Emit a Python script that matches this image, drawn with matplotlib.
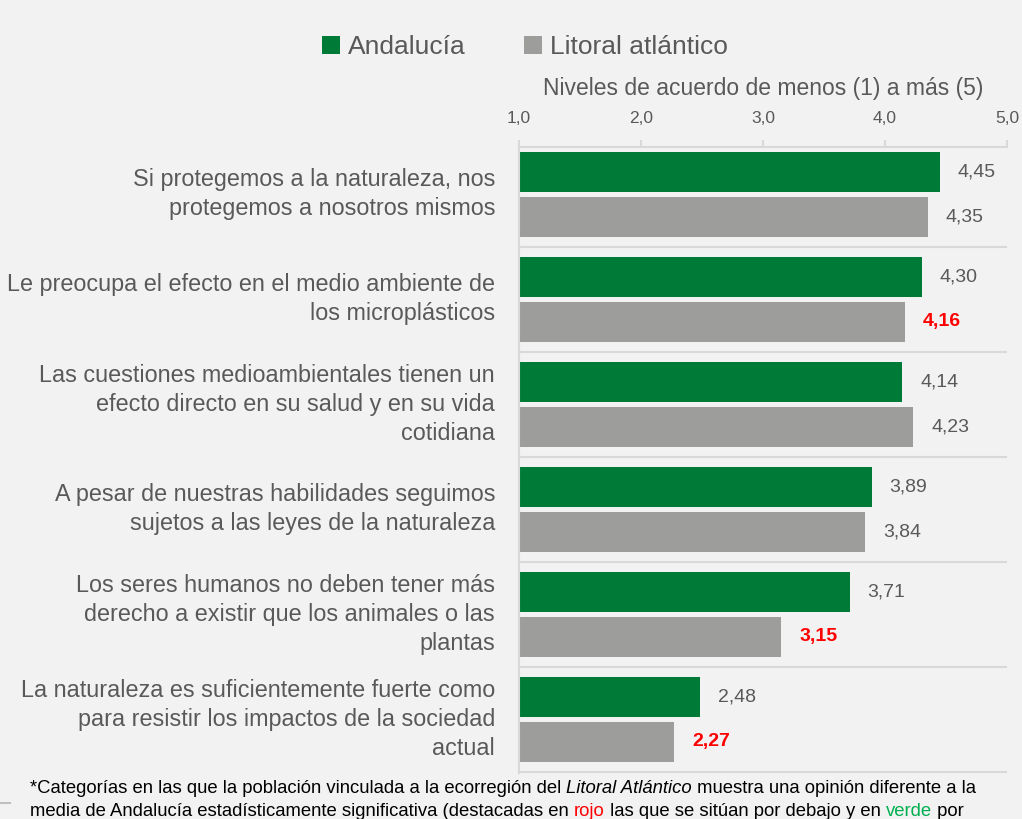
import numpy as np
import matplotlib.pyplot as plt

plt.rcParams['font.family'] = ['Liberation Sans', 'DejaVu Sans']

categorias = ["Si protegemos a la naturaleza, nos\nprotegemos a nosotros mismos",
              "Le preocupa el efecto en el medio ambiente de\nlos microplásticos",
              "Las cuestiones medioambientales tienen un\nefecto directo en su salud y en su vida\ncotidiana",
              "A pesar de nuestras habilidades seguimos\nsujetos a las leyes de la naturaleza",
              "Los seres humanos no deben tener más\nderecho a existir que los animales o las\nplantas",
              "La naturaleza es suficientemente fuerte como\npara resistir los impactos de la sociedad\nactual"]
andalucia = [4.45, 4.30, 4.14, 3.89, 3.71, 2.48]
litoral = [4.35, 4.16, 4.23, 3.84, 3.15, 2.27]
litoral_sig = [False, True, False, False, True, True]
ticks = [1, 2, 3, 4, 5]

verde = '#007A37'
gris = '#9D9D9B'
rojo = '#FF0000'
txt = '#595959'
bg = '#F2F2F2'

fig = plt.figure(figsize=(10.22, 8.19), dpi=100, facecolor=bg)
ax = fig.add_axes([519/1022, 1-773/819, (1007-519)/1022, (773-147)/819])
ax.set_facecolor(bg)

y = np.arange(len(categorias))
h = 0.38
off = 0.214
ax.barh(y - off, np.array(andalucia) - 1, left=1, height=h, color=verde, label='Andalucía')
ax.barh(y + off, np.array(litoral) - 1, left=1, height=h, color=gris, label='Litoral atlántico')

for i in range(len(categorias)):
    ax.annotate(f"{andalucia[i]:.2f}".replace('.', ','), (andalucia[i], y[i] - off),
                xytext=(13, 0), textcoords='offset points', va='center', fontsize=14, color=txt)
    c = rojo if litoral_sig[i] else txt
    w = 'bold' if litoral_sig[i] else 'normal'
    ax.annotate(f"{litoral[i]:.2f}".replace('.', ','), (litoral[i], y[i] + off),
                xytext=(13, 0), textcoords='offset points', va='center', fontsize=14, color=c,
                fontweight=w)
    ax.text(-0.049, y[i], categorias[i], transform=ax.get_yaxis_transform(), ha='right',
            va='center', multialignment='right', fontsize=16.8, color=txt, linespacing=1.33)

for yy in np.arange(0.5, len(categorias), 1):
    ax.axhline(yy, color='#D9D9D9', lw=1.5)

ax.set_xlim(1, 5)
ax.set_ylim(5.51, -0.452)
ax.xaxis.tick_top()
ax.xaxis.set_label_position('top')
ax.set_xticks(ticks)
ax.set_xticklabels([f"{t:.1f}".replace('.', ',') for t in ticks], fontsize=12.5, color=txt)
ax.tick_params(axis='x', direction='out', length=5, color='#D9D9D9', width=1.5, pad=10)
ax.set_xlabel('Niveles de acuerdo de menos (1) a más (5)', fontsize=16.5, color=txt, labelpad=12)
ax.set_yticks([])
for s in ['right', 'bottom']:
    ax.spines[s].set_visible(False)
for s in ['top', 'left']:
    ax.spines[s].set_color('#D9D9D9')
    ax.spines[s].set_linewidth(1.5)

fig.legend(loc='center', bbox_to_anchor=(525/1022, 1-47/819), ncol=2, frameon=False,
           fontsize=19, handlelength=0.7, handleheight=0.7, handletextpad=0.3,
           columnspacing=2.2, labelcolor=txt)

# nota al pie en trozos encadenados
ft = 13.3
negro = '#000000'
linea1 = [("*Categorías en las que la población vinculada a la ecorregión del ", negro, 'normal'),
          ("Litoral Atlántico", negro, 'italic'),
          (" muestra una opinión diferente a la", negro, 'normal')]
linea2 = [("media de Andalucía estadísticamente significativa (destacadas en ", negro, 'normal'),
          ("rojo", rojo, 'normal'),
          (" las que se sitúan por debajo y en ", negro, 'normal'),
          ("verde", '#00B050', 'normal'),
          (" por", negro, 'normal')]

for yl, partes in [(793, linea1), (816, linea2)]:
    prev = fig.text(30/1022, 1-yl/819, partes[0][0], color=partes[0][1], style=partes[0][2],
                    fontsize=ft, va='baseline')
    for t, c, st in partes[1:]:
        prev = fig.add_artist(plt.Annotation(t, xy=(1, 0), xycoords=prev, va='bottom', ha='left',
                                             color=c, style=st, fontsize=ft))

fig.add_artist(plt.Line2D([0, 10/1022], [1-803/819, 1-803/819], color='#BFBFBF', lw=1.5))

fig.savefig('out.png', dpi=100, facecolor=bg)
